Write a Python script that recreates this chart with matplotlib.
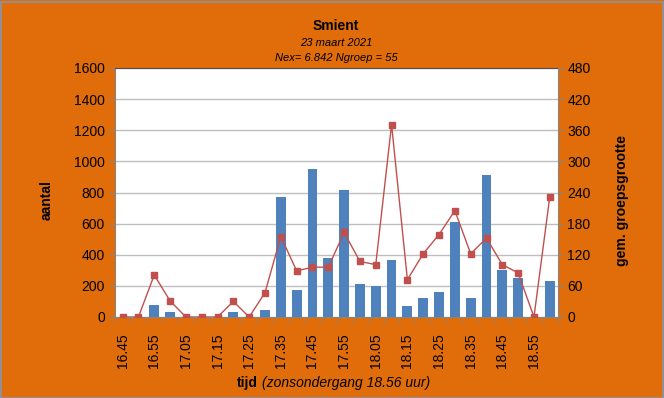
import matplotlib
matplotlib.use("Agg")
import matplotlib.pyplot as plt
from matplotlib.patches import Rectangle
import numpy as np

times = ["16.45","16.50","16.55","17.00","17.05","17.10","17.15","17.20","17.25","17.30",
         "17.35","17.40","17.45","17.50","17.55","18.00","18.05","18.10","18.15","18.20",
         "18.25","18.30","18.35","18.40","18.45","18.50","18.55","19.00"]
aantal = [0,0,80,32,0,0,0,32,0,47,774,176,951,379,816,212,199,366,71,122,161,611,122,913,302,251,0,231]
groepsgrootte = [0,0,81,31,0,0,0,30,0,47,155,89,96,96,163,107,101,371,72,122,159,205,122,152,101,85,0,232]

orange = "#E06C0A"
bar_col = "#4F81BD"
line_col = "#C0504D"
font = "Liberation Sans"
plt.rcParams['font.family'] = [font, 'DejaVu Sans']

fig = plt.figure(figsize=(6.64, 3.98), dpi=100, facecolor=orange)
ax = fig.add_axes([114.7/664, 1-317/398, (557.7-114.7)/664, (317-68)/398])
ax.set_facecolor("white")
x = np.arange(len(times))
ax.bar(x, aantal, width=0.62, color=bar_col, zorder=2)
ax.set_xlim(-0.5, len(times)-0.5)
ax.set_ylim(0, 1600)
ax.set_yticks(np.arange(0, 1601, 200))
ax.grid(axis='y', color='#BFBFBF', linewidth=1, zorder=0)
ax.set_axisbelow(True)
ax.spines['right'].set_visible(False)
ax.spines['top'].set_color('#505050')
ax.spines['left'].set_color('#868686')
ax.spines['bottom'].set_color('#868686')
ax.tick_params(axis='y', length=4, color='#868686', labelsize=10, pad=3, direction='out')
ax.set_xticks(x[::2])
ax.set_xticklabels(times[::2], rotation=90, fontsize=10)
ax.set_xticks(np.arange(-0.5, len(times), 1), minor=True)
ax.tick_params(axis='x', which='major', length=0, pad=12)
ax.tick_params(axis='x', which='minor', length=4, color='#868686', direction='out')

ax2 = ax.twinx()
ax2.plot(x, groepsgrootte, color=line_col, marker='s', markersize=5, linewidth=1, zorder=3)
ax2.set_ylim(0, 480)
ax2.set_yticks(np.arange(0, 481, 60))
for s in ['top', 'left', 'bottom']:
    ax2.spines[s].set_visible(False)
ax2.spines['right'].set_color('#868686')
ax2.tick_params(axis='y', length=4, color='#868686', labelsize=10, pad=3)

fig.text(336/664, 1-26/398, "Smient", ha='center', va='center', fontsize=10, fontweight='bold')
fig.text(336/664, 1-43/398, "23 maart 2021", ha='center', va='center', fontsize=8, style='italic')
fig.text(336/664, 1-58/398, "Nex= 6.842 Ngroep = 55", ha='center', va='center', fontsize=8, style='italic')
fig.text(47/664, 1-200/398, "aantal", rotation=90, ha='center', va='center', fontsize=10, fontweight='bold')
fig.text(622/664, 1-200/398, "gem. groepsgrootte", rotation=90, ha='center', va='center', fontsize=10, fontweight='bold')
fig.text(237/664, 1-383/398, "tijd", ha='left', va='center', fontsize=10, fontweight='bold')
fig.text(262/664, 1-383/398, "(zonsondergang 18.56 uur)", ha='left', va='center', fontsize=10, style='italic')

fig.patches.append(Rectangle((0.5/664, 0.5/398), 662.5/664, 396/398, transform=fig.transFigure,
                             fill=False, edgecolor='#8496B0', linewidth=1.2))

fig.savefig("out.png", dpi=100, facecolor=orange)
